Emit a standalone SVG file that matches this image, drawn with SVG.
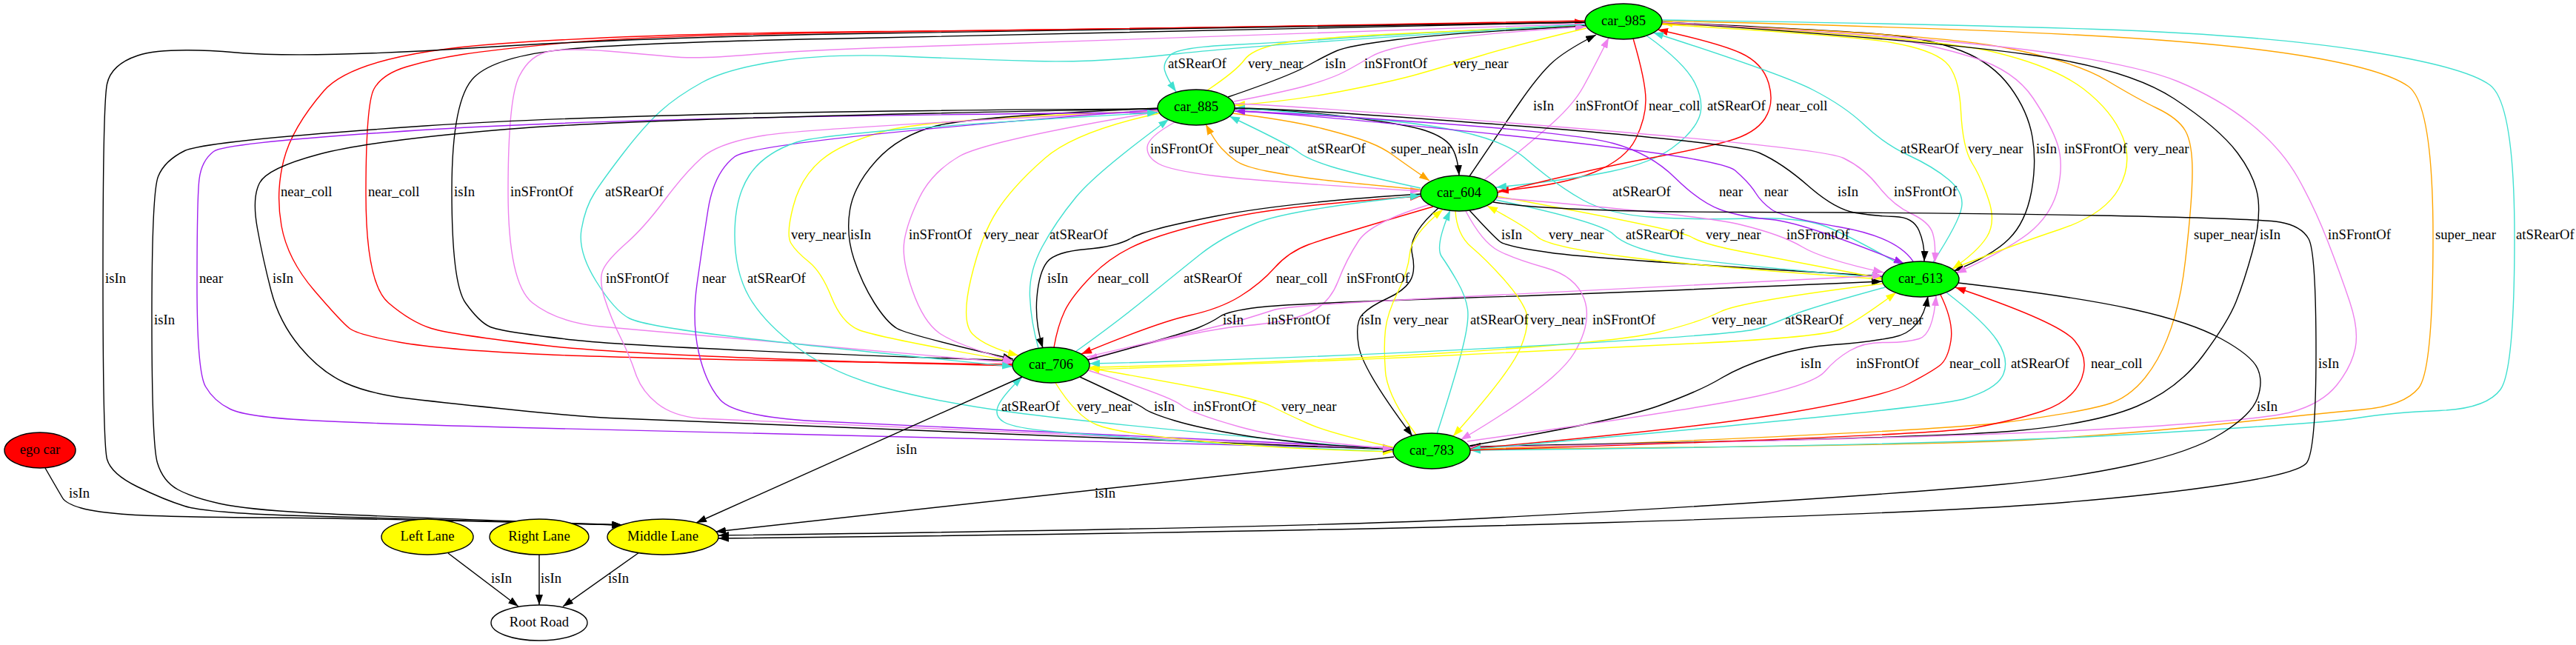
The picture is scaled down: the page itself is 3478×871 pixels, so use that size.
<svg xmlns="http://www.w3.org/2000/svg" width="3478" height="871" viewBox="0 0 3478 871">
<defs>
<marker id="mk" viewBox="0 0 14 10" refX="14" refY="5" markerWidth="14" markerHeight="10" markerUnits="userSpaceOnUse" orient="auto"><path d="M0,0 L14,5 L0,10 z" fill="#000000"/></marker>
<marker id="mr" viewBox="0 0 14 10" refX="14" refY="5" markerWidth="14" markerHeight="10" markerUnits="userSpaceOnUse" orient="auto"><path d="M0,0 L14,5 L0,10 z" fill="#ff0000"/></marker>
<marker id="mv" viewBox="0 0 14 10" refX="14" refY="5" markerWidth="14" markerHeight="10" markerUnits="userSpaceOnUse" orient="auto"><path d="M0,0 L14,5 L0,10 z" fill="#ee82ee"/></marker>
<marker id="mp" viewBox="0 0 14 10" refX="14" refY="5" markerWidth="14" markerHeight="10" markerUnits="userSpaceOnUse" orient="auto"><path d="M0,0 L14,5 L0,10 z" fill="#a020f0"/></marker>
<marker id="mt" viewBox="0 0 14 10" refX="14" refY="5" markerWidth="14" markerHeight="10" markerUnits="userSpaceOnUse" orient="auto"><path d="M0,0 L14,5 L0,10 z" fill="#40e0d0"/></marker>
<marker id="my" viewBox="0 0 14 10" refX="14" refY="5" markerWidth="14" markerHeight="10" markerUnits="userSpaceOnUse" orient="auto"><path d="M0,0 L14,5 L0,10 z" fill="#ffff00"/></marker>
<marker id="mo" viewBox="0 0 14 10" refX="14" refY="5" markerWidth="14" markerHeight="10" markerUnits="userSpaceOnUse" orient="auto"><path d="M0,0 L14,5 L0,10 z" fill="#ffa500"/></marker>
</defs>
<style>
#edges path{fill:none;stroke-width:1.4}
.k{stroke:#000000;marker-end:url(#mk)}
.r{stroke:#ff0000;marker-end:url(#mr)}
.v{stroke:#ee82ee;marker-end:url(#mv)}
.p{stroke:#a020f0;marker-end:url(#mp)}
.t{stroke:#40e0d0;marker-end:url(#mt)}
.y{stroke:#ffff00;marker-end:url(#my)}
.o{stroke:#ffa500;marker-end:url(#mo)}
text{font-family:"Liberation Serif","Times New Roman",serif;font-size:18.67px;fill:#000000}
.node ellipse{stroke:#000000;stroke-width:1.4}
.node text{text-anchor:middle}
.car ellipse{fill:#00ff00}
.lane ellipse{fill:#ffff00}
</style>
<rect x="0" y="0" width="3478" height="871" fill="#ffffff"/>
<g id="edges">
<path class="t" d="M2141,33 Q1900,45 1820,51 Q1740,57 1665,60.5 Q1590,64 1580,74.5 Q1570,85 1572.5,95 Q1575,105 1588,124"/>
<path class="y" d="M1630,122 Q1670,95 1680,81 Q1690,67 1725,59.5 Q1760,52 1880,46 Q2000,40 2141,34"/>
<path class="k" d="M1658,131 Q1740,103 1765,89 Q1790,75 1805,68.5 Q1820,62 1885,53.5 Q1950,45 2141,35"/>
<path class="v" d="M1666,137 Q1740,123 1770,114 Q1800,105 1816,96.5 Q1832,88 1851,76.5 Q1870,65 1935,55 Q2000,45 2141,36"/>
<path class="y" d="M2142,38 Q2050,60 2000,75 Q1950,90 1915,100 Q1880,110 1810,123.5 Q1740,137 1667,142"/>
<path class="k" d="M1984,238 Q2030,170 2052.5,137.5 Q2075,105 2092.5,87.5 Q2110,70 2155,47"/>
<path class="v" d="M2004,243 Q2070,190 2097.5,165 Q2125,140 2137.5,117.5 Q2150,95 2172,51"/>
<path class="r" d="M2205,52 Q2222,110 2222,135 Q2222,160 2208.5,187.5 Q2195,215 2152.5,232.5 Q2110,250 2023,258"/>
<path class="t" d="M2223,48 Q2275,85 2288.5,112.5 Q2302,140 2293.5,160 Q2285,180 2257.5,200 Q2230,220 2175,231.5 Q2120,243 2020,253"/>
<path class="r" d="M2022,260 Q2150,228 2225,214 Q2300,200 2335,190 Q2370,180 2383,160 Q2396,140 2388,112.5 Q2380,85 2350,71.5 Q2320,58 2238,40"/>
<path class="v" d="M1586,165 Q1550,185 1549,198.5 Q1548,212 1564,221 Q1580,230 1640,237.5 Q1700,245 1918,258"/>
<path class="o" d="M1918,256 Q1800,245 1770,241 Q1740,237 1710,231 Q1680,225 1669,217.5 Q1658,210 1649,200 Q1640,190 1628,168"/>
<path class="t" d="M1918,254 Q1830,235 1797.5,225 Q1765,215 1752.5,205 Q1740,195 1660,157"/>
<path class="o" d="M1664,153 Q1740,162 1785,173.5 Q1830,185 1849,192.5 Q1868,200 1881.5,210 Q1895,220 1930,244"/>
<path class="k" d="M1667,147 Q1740,148 1820,158 Q1900,168 1925,176.5 Q1950,185 1959,197.5 Q1968,210 1970,237"/>
<path class="t" d="M2610,354 Q2645,300 2648.5,280 Q2652,260 2631,242.5 Q2610,225 2577.5,210 Q2545,195 2517.5,169 Q2490,143 2448,121.5 Q2406,100 2232,44"/>
<path class="y" d="M2244,33 Q2500,48 2554,57.5 Q2608,67 2626.5,83.5 Q2645,100 2647.5,150 Q2650,200 2662.5,220 Q2675,240 2685,270 Q2695,300 2682.5,320 Q2670,340 2636,363"/>
<path class="k" d="M2244,30 Q2500,42 2554,47.5 Q2608,53 2649,69 Q2690,85 2714,117.5 Q2738,150 2744,185 Q2750,220 2742.5,260 Q2735,300 2712.5,322.5 Q2690,345 2638,366"/>
<path class="v" d="M2244,31 Q2500,45 2554,52.5 Q2608,60 2664,77.5 Q2720,95 2745,132.5 Q2770,170 2778,195 Q2786,220 2779,252.5 Q2772,285 2746,309 Q2720,333 2641,369"/>
<path class="y" d="M2636,363 Q2720,330 2780.5,310 Q2841,290 2860.5,255 Q2880,220 2866,185 Q2852,150 2813,120 Q2774,90 2691,70 Q2608,50 2244,31"/>
<path class="r" d="M2140,28 Q1500,40 1185,42.5 Q870,45 675,59 Q480,73 437,123 Q394,173 383,216.5 Q372,260 380,305 Q388,350 424.5,392.5 Q461,435 472,443.5 Q483,452 538.5,462 Q594,472 732,478.5 Q870,485 1367,492"/>
<path class="r" d="M1367,494 Q870,482 740,467 Q610,452 582.5,443.5 Q555,435 524.5,409 Q494,383 494,261.5 Q494,140 505,120 Q516,100 549.5,90 Q583,80 624.5,73.5 Q666,67 768,57.5 Q870,48 1185,43 Q1500,38 2140,30"/>
<path class="k" d="M2140,30 Q1500,45 1185,51 Q870,57 770.5,66 Q671,75 640.5,104 Q610,133 610,258 Q610,383 628.5,409 Q647,435 662,441.5 Q677,448 773.5,459 Q870,470 1368,487"/>
<path class="v" d="M2140,32 Q1500,55 1296,61 Q1092,67 1017,73.5 Q942,80 906,76.5 Q870,73 820.5,69 Q771,65 743.5,69 Q716,73 701,103 Q686,133 686,258 Q686,383 719,409 Q752,435 811,441 Q870,447 1367,490"/>
<path class="t" d="M2140,33 Q1702,60 1591,72.5 Q1480,85 1397,82.5 Q1314,80 1217,76 Q1120,72 1050.5,82.5 Q981,93 947.5,111.5 Q914,130 892,150 Q870,170 843,205 Q816,240 803,260 Q790,280 785,310 Q780,340 805,380 Q830,420 850,430 Q870,440 985,454 Q1100,468 1367,495"/>
<path class="t" d="M2565,357 Q2500,320 2467,306.5 Q2434,293 2364.5,295 Q2295,297 2234,293.5 Q2173,290 2137,270 Q2101,250 2059,213.5 Q2017,177 1878.5,163.5 Q1740,150 1667,146"/>
<path class="p" d="M1667,150 Q1740,152 1934,166 Q2128,180 2178,193.5 Q2228,207 2261.5,240 Q2295,273 2322.5,283 Q2350,293 2392,296.5 Q2434,300 2571,356"/>
<path class="p" d="M2583,353 Q2561,320 2483.5,306.5 Q2406,293 2392,283 Q2378,273 2370,260 Q2362,247 2342.5,230 Q2323,213 2031.5,182.5 Q1740,152 1667,150"/>
<path class="k" d="M1667,146 Q1740,146 2042.5,169.5 Q2345,193 2375.5,206.5 Q2406,220 2442,251.5 Q2478,283 2505.5,287.5 Q2533,292 2558,292.5 Q2583,293 2591,311.5 Q2599,330 2598,353"/>
<path class="v" d="M1667,140 Q1740,142 2100.5,171 Q2461,200 2489,213.5 Q2517,227 2536.5,252 Q2556,277 2580.5,288.5 Q2605,300 2609.5,315 Q2614,330 2612,355"/>
<path class="y" d="M1368,488 Q1181,455 1158.5,445 Q1136,435 1122.5,401 Q1109,367 1092,353.5 Q1075,340 1068,328.5 Q1061,317 1071,278.5 Q1081,240 1108.5,216.5 Q1136,193 1197,176.5 Q1258,160 1563,150"/>
<path class="k" d="M1563,146 Q1314,157 1264,170 Q1214,183 1183.5,216.5 Q1153,250 1147.5,283.5 Q1142,317 1153,350 Q1164,383 1180.5,409 Q1197,435 1211,443.5 Q1225,452 1368,485"/>
<path class="v" d="M1563,151 Q1331,190 1294.5,211.5 Q1258,233 1241.5,266.5 Q1225,300 1221,325 Q1217,350 1232,392.5 Q1247,435 1268.5,450 Q1290,465 1368,488"/>
<path class="y" d="M1565,153 Q1453,177 1411,213.5 Q1369,250 1347,283.5 Q1325,317 1311,376 Q1297,435 1313.5,451.5 Q1330,468 1375,480"/>
<path class="t" d="M1402,470 Q1392,435 1390.5,401 Q1389,367 1407,333.5 Q1425,300 1452.5,266.5 Q1480,233 1578,161"/>
<path class="k" d="M1984,284 Q2017,320 2025.5,326.5 Q2034,333 2095,341.5 Q2156,350 2542,373"/>
<path class="y" d="M2541,377 Q2295,360 2192.5,346.5 Q2090,333 2076,320 Q2062,307 2008,278"/>
<path class="t" d="M2020,270 Q2162,300 2178.5,316.5 Q2195,333 2247.5,344 Q2300,355 2541,375"/>
<path class="y" d="M2021,265 Q2267,310 2283.5,320 Q2300,330 2353,340 Q2406,350 2541,376"/>
<path class="v" d="M2021,267 Q2295,290 2350.5,303.5 Q2406,317 2433.5,333.5 Q2461,350 2543,368"/>
<path class="o" d="M2244,32 Q2608,45 2705,64 Q2802,83 2843.5,108 Q2885,133 2913,146.5 Q2941,160 2950.5,176.5 Q2960,193 2960,231.5 Q2960,270 2950.5,352.5 Q2941,435 2913,485 Q2885,535 2843.5,546.5 Q2802,558 2705,570.5 Q2608,583 1985,607"/>
<path class="k" d="M2244,30 Q2608,55 2741,74 Q2874,93 2935,133 Q2996,173 3021,206.5 Q3046,240 3049,270 Q3052,300 3041,340 Q3030,380 3019,407.5 Q3008,435 2974.5,480 Q2941,525 2885.5,548.5 Q2830,572 2719,582 Q2608,592 1985,603"/>
<path class="v" d="M2244,30 Q2608,50 2746.5,68.5 Q2885,87 2940.5,110 Q2996,133 3038,166.5 Q3080,200 3102.5,240 Q3125,280 3142.5,325 Q3160,370 3172.5,407.5 Q3185,445 3180,470 Q3175,495 3155,520 Q3135,545 3093.5,556.5 Q3052,568 2830,580 Q2608,592 1985,604"/>
<path class="o" d="M2244,28 Q2608,37 2802,47 Q2996,57 3107,75 Q3218,93 3251.5,116.5 Q3285,140 3285,320 Q3285,500 3265.5,524 Q3246,548 3190.5,553 Q3135,558 3010,571.5 Q2885,585 2746.5,593.5 Q2608,602 1985,607"/>
<path class="t" d="M2244,27 Q2608,32 2830,39.5 Q3052,47 3190.5,68.5 Q3329,90 3362,115 Q3395,140 3395,320 Q3395,500 3376,526 Q3357,552 3293.5,554.5 Q3230,557 3182.5,564.5 Q3135,572 2871.5,587 Q2608,602 1985,608"/>
<path class="k" d="M2644,382 Q2800,400 2879,417.5 Q2958,435 2999,457.5 Q3040,480 3048,497.5 Q3056,515 3048,537.5 Q3040,560 3000,585 Q2960,610 2880,627.5 Q2800,645 2704,654 Q2608,663 2404,676.5 Q2200,690 1970,701.5 Q1740,713 970,723"/>
<path class="k" d="M2016,273 Q2100,286 2355,286.5 Q2610,287 2830,291 Q3050,295 3078.5,300 Q3107,305 3117,322.5 Q3127,340 3127,476 Q3127,612 3113.5,626 Q3100,640 3000,655 Q2900,670 2754,681 Q2608,692 2174,705.5 Q1740,719 970,727"/>
<path class="k" d="M2140,30 Q1500,40 1185,45 Q870,50 643,64.5 Q416,79 319,71 Q222,63 186,75 Q150,87 144.5,113.5 Q139,140 139,370 Q139,600 144.5,620 Q150,640 186,657.5 Q222,675 249.5,683.5 Q277,692 388.5,696 Q500,700 840,709"/>
<path class="k" d="M1563,147 Q870,150 573.5,170 Q277,190 249.5,203.5 Q222,217 213.5,238.5 Q205,260 205,430 Q205,600 212.5,625 Q220,650 240,661 Q260,672 296.5,680 Q333,688 416,692.5 Q499,697 840,709"/>
<path class="p" d="M1563,152 Q870,157 587.5,174.5 Q305,192 288.5,204.5 Q272,217 269,242 Q266,267 266,384.5 Q266,502 277.5,522 Q289,542 311,552.5 Q333,563 416,567.5 Q499,572 684.5,577 Q870,582 1881,606"/>
<path class="k" d="M1563,147 Q870,159 684.5,174.5 Q499,190 430,208.5 Q361,227 350.5,247 Q340,267 347.5,308.5 Q355,350 366,392.5 Q377,435 405,468.5 Q433,502 466,517 Q499,532 554.5,538.5 Q610,545 693.5,553.5 Q777,562 823.5,564.5 Q870,567 1881,607"/>
<path class="v" d="M1563,150 Q1092,173 1031,183 Q970,193 947.5,213 Q925,233 897.5,270 Q870,307 845.5,328.5 Q821,350 814.5,363.5 Q808,377 816.5,403.5 Q825,430 837.5,455 Q850,480 858,504 Q866,528 887.5,545 Q909,562 945,565 Q981,568 1881,606"/>
<path class="p" d="M1563,148 Q1020,190 992,211.5 Q964,233 956,283 Q948,333 941,384 Q934,435 943.5,476.5 Q953,518 972.5,540 Q992,562 1097.5,568.5 Q1203,575 1881,605"/>
<path class="t" d="M1881,608 Q1480,572 1369,557 Q1258,542 1189,522 Q1120,502 1075.5,468.5 Q1031,435 1011.5,401 Q992,367 992,317 Q992,267 1011.5,237 Q1031,207 1075.5,192 Q1120,177 1563,152"/>
<path class="k" d="M1918,262 Q1740,273 1643.5,291.5 Q1547,310 1527.5,321.5 Q1508,333 1466.5,336.5 Q1425,340 1414,353.5 Q1403,367 1400,401 Q1397,435 1408,470"/>
<path class="r" d="M1423,469 Q1428,440 1437.5,420 Q1447,400 1475,371.5 Q1503,343 1544.5,326.5 Q1586,310 1663,293.5 Q1740,277 1918,265"/>
<path class="t" d="M1452,475 Q1508,435 1549.5,401 Q1591,367 1620.5,343.5 Q1650,320 1695,301.5 Q1740,283 1918,264"/>
<path class="r" d="M1935,279 Q1795,320 1767.5,330 Q1740,340 1721,361.5 Q1702,383 1674.5,400 Q1647,417 1605.5,426 Q1564,435 1460,478"/>
<path class="v" d="M1931,276 Q1851,300 1834.5,325 Q1818,350 1806.5,380 Q1795,410 1767.5,422.5 Q1740,435 1679.5,440 Q1619,445 1468,485"/>
<path class="k" d="M1469,486 Q1600,450 1618,442.5 Q1636,435 1647,427.5 Q1658,420 1699,415 Q1740,410 1970,402.5 Q2200,395 2541,380"/>
<path class="v" d="M1467,482 Q1650,440 1675,432.5 Q1700,425 1720,418.5 Q1740,412 1970,401 Q2200,390 2542,372"/>
<path class="k" d="M1942,281 Q1901,317 1906.5,342 Q1912,367 1903.5,380 Q1895,393 1873,403 Q1851,413 1840,424 Q1829,435 1834.5,467.5 Q1840,500 1907,589"/>
<path class="y" d="M1912,587 Q1873,535 1870.5,501.5 Q1868,468 1870.5,445.5 Q1873,423 1887,395 Q1901,367 1903.5,342 Q1906,317 1948,283"/>
<path class="t" d="M1940,586 Q1962,518 1973,476.5 Q1984,435 1981.5,417.5 Q1979,400 1967.5,380 Q1956,360 1946.5,346.5 Q1937,333 1958,284"/>
<path class="y" d="M1965,285 Q1967,317 1986.5,333.5 Q2006,350 2028.5,375 Q2051,400 2059,417.5 Q2067,435 2053.5,468.5 Q2040,502 1962,589"/>
<path class="v" d="M1979,285 Q2001,327 2023,338.5 Q2045,350 2086.5,361.5 Q2128,373 2139,404 Q2150,435 2125.5,476.5 Q2101,518 1972,594"/>
<path class="y" d="M2542,383 Q2350,407 2322.5,421 Q2295,435 2239.5,448.5 Q2184,462 1962,476 Q1740,490 1471,496"/>
<path class="t" d="M2545,388 Q2439,417 2419.5,426 Q2400,435 2375,443.5 Q2350,452 2045,468.5 Q1740,485 1471,491"/>
<path class="y" d="M1471,499 Q1740,490 1934,481 Q2128,472 2294.5,463.5 Q2461,455 2483.5,445 Q2506,435 2560,395"/>
<path class="k" d="M1984,602 Q2184,568 2239.5,548 Q2295,528 2322.5,511.5 Q2350,495 2392,481.5 Q2434,468 2475.5,465.5 Q2517,463 2556,455.5 Q2595,448 2603,400"/>
<path class="v" d="M1981,596 Q2295,552 2372.5,535 Q2450,518 2464,501.5 Q2478,485 2497.5,473.5 Q2517,462 2544.5,462.5 Q2572,463 2591,457.5 Q2610,452 2614,399"/>
<path class="r" d="M2620,398 Q2638,435 2634,460 Q2630,485 2619,493.5 Q2608,502 2576.5,518.5 Q2545,535 2420,556.5 Q2295,578 1985,606"/>
<path class="t" d="M2628,395 Q2680,435 2696.5,460 Q2713,485 2705,505 Q2697,525 2652.5,538.5 Q2608,552 1985,607"/>
<path class="r" d="M1985,608 Q2608,588 2663.5,578 Q2719,568 2758,555 Q2797,542 2809.5,513.5 Q2822,485 2801,460 Q2780,435 2640,388"/>
<path class="t" d="M1881,610 Q1740,605 1610,596.5 Q1480,588 1424.5,583 Q1369,578 1355.5,570 Q1342,562 1347.5,548.5 Q1353,535 1380,509"/>
<path class="y" d="M1425,517 Q1453,562 1480.5,573.5 Q1508,585 1624,596 Q1740,607 1881,610"/>
<path class="k" d="M1458,509 Q1536,545 1544.5,551.5 Q1553,558 1586,568 Q1619,578 1679.5,588 Q1740,598 1881,607"/>
<path class="v" d="M1469,500 Q1580,535 1594,546.5 Q1608,558 1674,576.5 Q1740,595 1881,606"/>
<path class="y" d="M1881,604 Q1795,585 1765,571.5 Q1735,558 1717.5,549 Q1700,540 1645.5,529 Q1591,518 1471,497"/>
<path class="k" d="M1380,509 L940,706"/>
<path class="k" d="M1882,617 L966,718"/>
<path class="k" d="M61,632 Q80,665 84.5,672.5 Q89,680 109.5,686 Q130,692 176,695 Q222,698 361,699 Q500,700 840,709"/>
<path class="k" d="M605,747 L700,819"/>
<path class="k" d="M728,749 L728,817"/>
<path class="k" d="M863,746 L760,819"/>
</g>
<g id="edge-labels">
<text x="1577" y="92">atSRearOf</text>
<text x="1685" y="92">very_near</text>
<text x="1789" y="92">isIn</text>
<text x="1842" y="92">inSFrontOf</text>
<text x="1962" y="92">very_near</text>
<text x="2070" y="149">isIn</text>
<text x="2127" y="149">inSFrontOf</text>
<text x="2226" y="149">near_coll</text>
<text x="2305" y="149">atSRearOf</text>
<text x="2398" y="149">near_coll</text>
<text x="1553" y="207">inSFrontOf</text>
<text x="1659" y="207">super_near</text>
<text x="1765" y="207">atSRearOf</text>
<text x="1878" y="207">super_near</text>
<text x="1968" y="207">isIn</text>
<text x="2566" y="207">atSRearOf</text>
<text x="2657" y="207">very_near</text>
<text x="2749" y="207">isIn</text>
<text x="2787" y="207">inSFrontOf</text>
<text x="2881" y="207">very_near</text>
<text x="379" y="265">near_coll</text>
<text x="497" y="265">near_coll</text>
<text x="613" y="265">isIn</text>
<text x="689" y="265">inSFrontOf</text>
<text x="817" y="265">atSRearOf</text>
<text x="2177" y="265">atSRearOf</text>
<text x="2321" y="265">near</text>
<text x="2382" y="265">near</text>
<text x="2481" y="265">isIn</text>
<text x="2557" y="265">inSFrontOf</text>
<text x="1068" y="323">very_near</text>
<text x="1148" y="323">isIn</text>
<text x="1227" y="323">inSFrontOf</text>
<text x="1328" y="323">very_near</text>
<text x="1417" y="323">atSRearOf</text>
<text x="2027" y="323">isIn</text>
<text x="2091" y="323">very_near</text>
<text x="2195" y="323">atSRearOf</text>
<text x="2303" y="323">very_near</text>
<text x="2412" y="323">inSFrontOf</text>
<text x="2962" y="323">super_near</text>
<text x="3051" y="323">isIn</text>
<text x="3143" y="323">inSFrontOf</text>
<text x="3288" y="323">super_near</text>
<text x="3397" y="323">atSRearOf</text>
<text x="142" y="382">isIn</text>
<text x="269" y="382">near</text>
<text x="368" y="382">isIn</text>
<text x="818" y="382">inSFrontOf</text>
<text x="948" y="382">near</text>
<text x="1009" y="382">atSRearOf</text>
<text x="1414" y="382">isIn</text>
<text x="1482" y="382">near_coll</text>
<text x="1598" y="382">atSRearOf</text>
<text x="1723" y="382">near_coll</text>
<text x="1818" y="382">inSFrontOf</text>
<text x="208" y="438">isIn</text>
<text x="1651" y="438">isIn</text>
<text x="1711" y="438">inSFrontOf</text>
<text x="1837" y="438">isIn</text>
<text x="1881" y="438">very_near</text>
<text x="1985" y="438">atSRearOf</text>
<text x="2066" y="438">very_near</text>
<text x="2150" y="438">inSFrontOf</text>
<text x="2311" y="438">very_near</text>
<text x="2410" y="438">atSRearOf</text>
<text x="2522" y="438">very_near</text>
<text x="2431" y="497">isIn</text>
<text x="2506" y="497">inSFrontOf</text>
<text x="2632" y="497">near_coll</text>
<text x="2715" y="497">atSRearOf</text>
<text x="2823" y="497">near_coll</text>
<text x="3130" y="497">isIn</text>
<text x="1352" y="555">atSRearOf</text>
<text x="1454" y="555">very_near</text>
<text x="1558" y="555">isIn</text>
<text x="1611" y="555">inSFrontOf</text>
<text x="1730" y="555">very_near</text>
<text x="3047" y="555">isIn</text>
<text x="1210" y="613">isIn</text>
<text x="1478" y="672">isIn</text>
<text x="93" y="672">isIn</text>
<text x="663" y="787">isIn</text>
<text x="730" y="787">isIn</text>
<text x="821" y="787">isIn</text>
</g>
<g id="car_985" class="node car"><ellipse cx="2192" cy="29" rx="52" ry="24"/><text x="2192" y="34">car_985</text></g>
<g id="car_885" class="node car"><ellipse cx="1615" cy="145" rx="52" ry="24"/><text x="1615" y="150">car_885</text></g>
<g id="car_604" class="node car"><ellipse cx="1970" cy="261" rx="52" ry="24"/><text x="1970" y="266">car_604</text></g>
<g id="car_613" class="node car"><ellipse cx="2593" cy="377" rx="52" ry="24"/><text x="2593" y="382">car_613</text></g>
<g id="car_706" class="node car"><ellipse cx="1419" cy="493" rx="52" ry="24"/><text x="1419" y="498">car_706</text></g>
<g id="car_783" class="node car"><ellipse cx="1933" cy="609" rx="52" ry="24"/><text x="1933" y="614">car_783</text></g>
<g id="ego_car" class="node"><ellipse cx="54" cy="608" rx="48" ry="24" fill="#ff0000"/><text x="54" y="613">ego car</text></g>
<g id="left_lane" class="node lane"><ellipse cx="577" cy="725" rx="62" ry="24"/><text x="577" y="730">Left Lane</text></g>
<g id="right_lane" class="node lane"><ellipse cx="728" cy="725" rx="67" ry="24"/><text x="728" y="730">Right Lane</text></g>
<g id="middle_lane" class="node lane"><ellipse cx="895" cy="725" rx="75" ry="24"/><text x="895" y="730">Middle Lane</text></g>
<g id="root_road" class="node"><ellipse cx="728" cy="841" rx="65" ry="24" fill="#ffffff"/><text x="728" y="846">Root Road</text></g>
</svg>
